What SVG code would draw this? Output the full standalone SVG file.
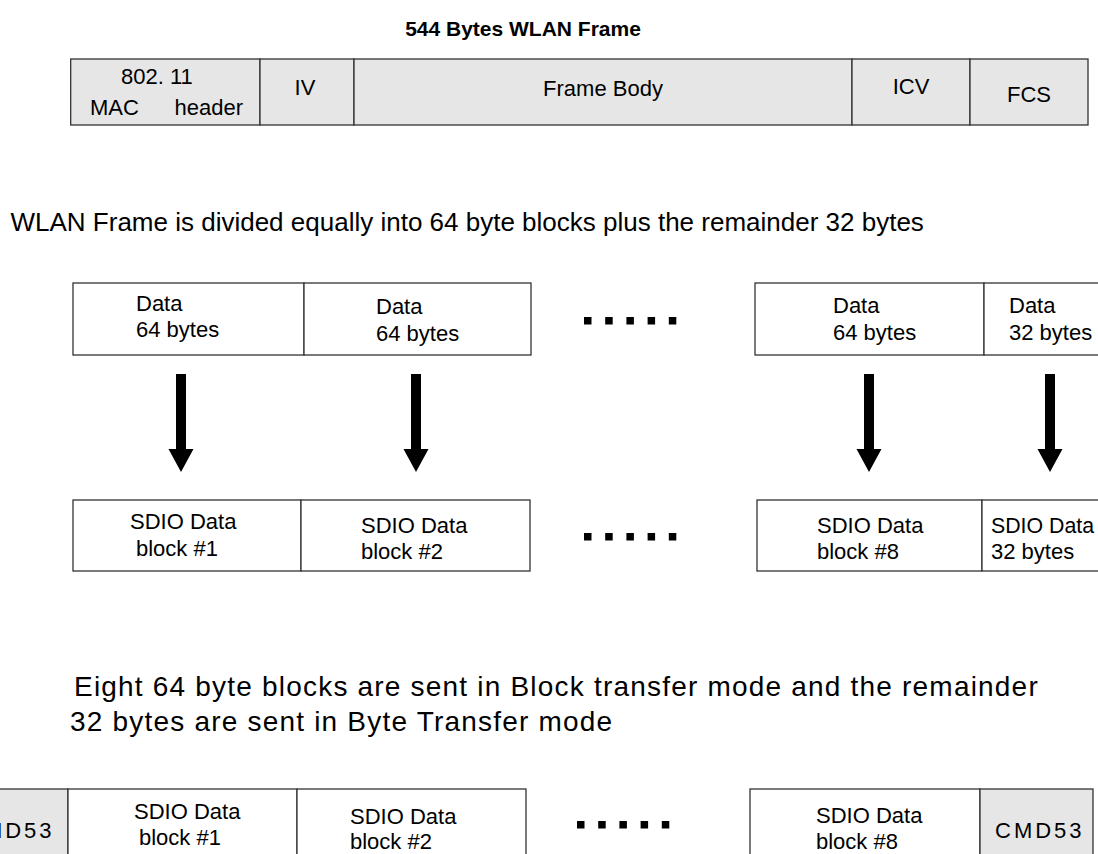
<svg xmlns="http://www.w3.org/2000/svg" width="1098" height="854" viewBox="0 0 1098 854">
<defs>
<style>
.t{font-family:"Liberation Sans",Arial,Helvetica,sans-serif;fill:#000}
.title{font-size:21px;font-weight:bold}
.f{font-size:22px}
.b{font-size:22px}
.big{font-size:26px}
.sp{font-size:28px;letter-spacing:1.2px}
.cmd{font-size:22px;letter-spacing:3px}
.box{fill:#fff;stroke:#333;stroke-width:1.3}
.gbox{fill:#e6e6e6;stroke:#333;stroke-width:1.3}
.dot{fill:#000}
</style>
<path id="arrow" d="M-5,0 H5 V75 H12.5 L0,98 L-12.5,75 H-5 Z" fill="#000"/>
<g id="dots5">
<rect class="dot" x="0" y="0" width="7.5" height="7.5"/>
<rect class="dot" x="21.2" y="0" width="7.5" height="7.5"/>
<rect class="dot" x="42.4" y="0" width="7.5" height="7.5"/>
<rect class="dot" x="63.6" y="0" width="7.5" height="7.5"/>
<rect class="dot" x="84.8" y="0" width="7.5" height="7.5"/>
</g>
</defs>
<rect width="1098" height="854" fill="#fff"/>

<text class="t title" x="523" y="36" text-anchor="middle">544 Bytes WLAN Frame</text>

<g id="frame-mac"><rect class="gbox" x="70.7" y="59" width="189.3" height="66"/>
<text class="t f" x="121" y="84">802. 11</text>
<text class="t f" x="90" y="115">MAC</text>
<text class="t f" x="243" y="115" text-anchor="end">header</text></g>
<g id="frame-iv"><rect class="gbox" x="260" y="59" width="94" height="66"/>
<text class="t f" x="305" y="95" text-anchor="middle">IV</text></g>
<g id="frame-body"><rect class="gbox" x="354" y="59" width="498" height="66"/>
<text class="t f" x="603" y="96" text-anchor="middle">Frame Body</text></g>
<g id="frame-icv"><rect class="gbox" x="852" y="59" width="118" height="66"/>
<text class="t f" x="911" y="94" text-anchor="middle">ICV</text></g>
<g id="frame-fcs"><rect class="gbox" x="970" y="59" width="118" height="66"/>
<text class="t f" x="1029" y="102" text-anchor="middle">FCS</text></g>

<text class="t big" x="10.5" y="231">WLAN Frame is divided equally into 64 byte blocks plus the remainder 32 bytes</text>

<g id="data1"><rect class="box" x="73" y="283" width="231" height="72"/>
<text class="t b" x="136" y="311">Data</text><text class="t b" x="136" y="337">64 bytes</text></g>
<g id="data2"><rect class="box" x="304" y="283" width="227" height="72"/>
<text class="t b" x="376" y="314">Data</text><text class="t b" x="376" y="341">64 bytes</text></g>
<g id="dots-row1"><use href="#dots5" x="584" y="317"/></g>
<g id="data8"><rect class="box" x="755" y="283" width="229" height="72"/>
<text class="t b" x="833" y="313">Data</text><text class="t b" x="833" y="340">64 bytes</text></g>
<g id="data32"><rect class="box" x="984" y="283" width="130" height="72"/>
<text class="t b" x="1009" y="313">Data</text><text class="t b" x="1009" y="340">32 bytes</text></g>

<g id="connectors">
<use href="#arrow" x="181" y="374"/>
<use href="#arrow" x="416" y="374"/>
<use href="#arrow" x="869" y="374"/>
<use href="#arrow" x="1050" y="374"/>
</g>

<g id="sdio1"><rect class="box" x="73" y="500" width="228" height="71"/>
<text class="t b" x="130" y="529">SDIO Data</text><text class="t b" x="136" y="556">block #1</text></g>
<g id="sdio2"><rect class="box" x="301" y="500" width="229" height="71"/>
<text class="t b" x="361" y="533">SDIO Data</text><text class="t b" x="361" y="559">block #2</text></g>
<g id="dots-row2"><use href="#dots5" x="584" y="533"/></g>
<g id="sdio8"><rect class="box" x="757" y="500" width="225" height="71"/>
<text class="t b" x="817" y="533">SDIO Data</text><text class="t b" x="817" y="559">block #8</text></g>
<g id="sdio32"><rect class="box" x="982" y="500" width="130" height="71"/>
<text class="t b" x="991" y="533" textLength="103" lengthAdjust="spacingAndGlyphs">SDIO Data</text><text class="t b" x="991" y="559">32 bytes</text></g>

<text class="t sp" x="74" y="696">Eight 64 byte blocks are sent in Block transfer mode and the remainder</text>
<text class="t sp" x="70" y="731">32 bytes are sent in Byte Transfer mode</text>

<g id="cmd53-left"><rect class="gbox" x="-20" y="789" width="88" height="80"/>
<text class="t cmd" x="-35" y="838">CMD53</text></g>
<g id="tx1"><rect class="box" x="68" y="789" width="229" height="80"/>
<text class="t b" x="134" y="819">SDIO Data</text><text class="t b" x="139" y="845">block #1</text></g>
<g id="tx2"><rect class="box" x="297" y="789" width="229" height="80"/>
<text class="t b" x="350" y="824">SDIO Data</text><text class="t b" x="350" y="849">block #2</text></g>
<g id="dots-row3"><use href="#dots5" x="577" y="821"/></g>
<g id="tx8"><rect class="box" x="750" y="789" width="230" height="80"/>
<text class="t b" x="816" y="823">SDIO Data</text><text class="t b" x="816" y="849">block #8</text></g>
<g id="cmd53-right"><rect class="gbox" x="980" y="789" width="113" height="80"/>
<text class="t cmd" x="995" y="838">CMD53</text></g>
</svg>
